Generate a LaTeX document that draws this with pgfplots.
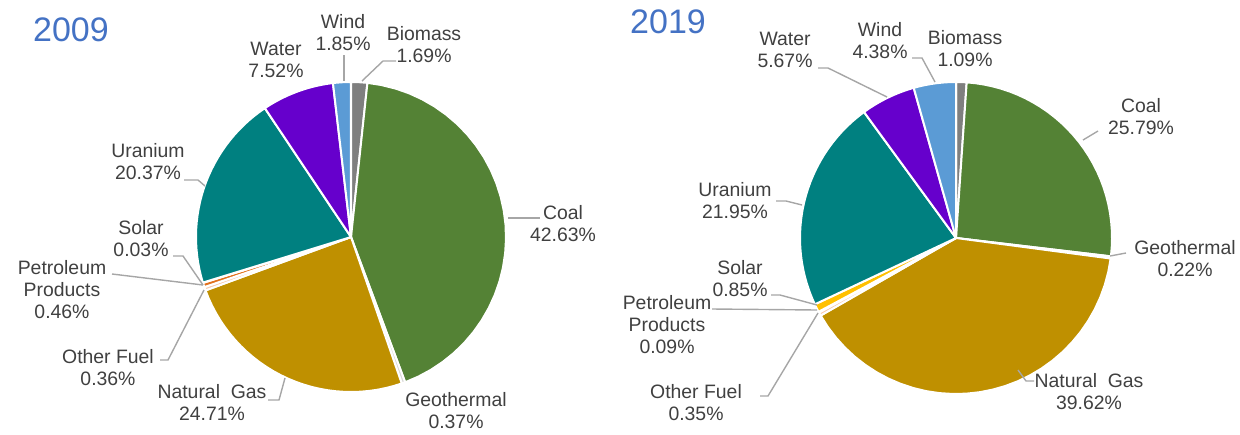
\documentclass[border=0pt]{standalone}
\usepackage{pgfplots}
\pgfplotsset{compat=1.18}
\usepackage{fontspec}
\setmainfont{Liberation Sans}

\definecolor{cBio}{HTML}{7F7F7F}
\definecolor{cCoal}{HTML}{548235}
\definecolor{cGeo}{HTML}{D9D9D9}
\definecolor{cGas}{HTML}{BF9000}
\definecolor{cOther}{HTML}{F8CBAD}
\definecolor{cPetro}{HTML}{E2711D}
\definecolor{cSolar}{HTML}{FFC000}
\definecolor{cUran}{HTML}{008080}
\definecolor{cWater}{HTML}{6600CC}
\definecolor{cWind}{HTML}{5B9BD5}
\definecolor{lbl}{HTML}{404040}
\definecolor{ttl}{HTML}{4472C4}
\definecolor{lead}{HTML}{A6A6A6}

% pie: centre x, centre y, radius, list of share/colour (clockwise from 12 o'clock)
\newcommand{\pie}[4]{%
  \gdef\pstart{90}%
  \foreach \v/\c in {#4} {%
    \pgfmathsetmacro{\pend}{\pstart - 3.6*\v}%
    \fill[\c, draw=white, line width=1pt, line join=round]
      (#1,#2) -- plot[domain=\pstart:\pend, samples=30]
      ({#1+#3*cos(\x)},{#2-#3*sin(\x)}) -- cycle;
    \xdef\pstart{\pend}%
  }%
}

\begin{document}
\begin{tikzpicture}[
  lab/.style={font=\fontsize{9.7}{11}\selectfont, text=lbl, align=center, inner sep=0pt},
  ld/.style={lead, line width=0.7pt}]
\begin{axis}[
  x=0.5pt, y=0.5pt,
  xmin=0, xmax=1240, ymin=0, ymax=434,
  y dir=reverse,
  hide axis, clip=false]

% full canvas, so the page is the whole frame
\path (0,0) rectangle (1240,434);

\pgfplotsextra{%
  % 2009
  \pie{351}{237}{155}{1.69/cBio, 42.63/cCoal, 0.37/cGeo, 24.71/cGas, 0.36/cOther,
    0.46/cPetro, 0.03/cSolar, 20.37/cUran, 7.52/cWater, 1.85/cWind}
  % 2019
  \pie{956}{238}{156}{1.09/cBio, 25.79/cCoal, 0.22/cGeo, 39.62/cGas, 0.35/cOther,
    0.09/cPetro, 0.85/cSolar, 21.95/cUran, 5.67/cWater, 4.38/cWind}
}

% titles
\node[font=\fontsize{17}{20}\selectfont, text=ttl, inner sep=0pt] at (71,30) {2009};
\node[font=\fontsize{17}{20}\selectfont, text=ttl, inner sep=0pt] at (668,22) {2019};

% 2009 labels
\node[lab] at (343,33) {Wind\\1.85\%};
\node[lab] at (424,45) {Biomass\\1.69\%};
\node[lab] at (276,60) {Water\\7.52\%};
\node[lab] at (148,162) {Uranium\\20.37\%};
\node[lab] at (563,224) {Coal\\42.63\%};
\node[lab] at (141,239) {Solar\\0.03\%};
\node[lab] at (62,290) {Petroleum\\Products\\0.46\%};
\node[lab] at (108,368) {Other Fuel\\0.36\%};
\node[lab] at (212,403) {Natural~ Gas\\24.71\%};
\node[lab] at (456,411) {Geothermal\\0.37\%};

\draw[ld] (344,55) -- (344,81);
\draw[ld] (396,61) -- (383,61) -- (362,81);
\draw[ld] (184,180) -- (198,180) -- (205,186);
\draw[ld] (508,218) -- (540,218);
\draw[ld] (173,256) -- (183,256) -- (203,285);
\draw[ld] (112,274) -- (203,285);
\draw[ld] (160,360) -- (168,360) -- (204,290);
\draw[ld] (268,400) -- (279,400) -- (285,378);

% 2019 labels
\node[lab] at (785,50) {Water\\5.67\%};
\node[lab] at (880,41) {Wind\\4.38\%};
\node[lab] at (965,49) {Biomass\\1.09\%};
\node[lab] at (1141,117) {Coal\\25.79\%};
\node[lab] at (1185,259) {Geothermal\\0.22\%};
\node[lab] at (735,201) {Uranium\\21.95\%};
\node[lab] at (740,279) {Solar\\0.85\%};
\node[lab] at (667,325) {Petroleum\\Products\\0.09\%};
\node[lab] at (696,403) {Other Fuel\\0.35\%};
\node[lab] at (1089,392) {Natural~ Gas\\39.62\%};

\draw[ld] (818,68) -- (828,68) -- (887,97);
\draw[ld] (912,58) -- (922,58) -- (935,82);
\draw[ld] (1083,140) -- (1098,131);
\draw[ld] (1110,256) -- (1126,253);
\draw[ld] (776,201) -- (786,201) -- (802,205);
\draw[ld] (771,295) -- (780,295) -- (817,305);
\draw[ld] (712,309) -- (817,310);
\draw[ld] (760,396) -- (768,396) -- (818,313);
\draw[ld] (1034,381) -- (1026,381) -- (1018,370);
\end{axis}
\end{tikzpicture}
\end{document}
